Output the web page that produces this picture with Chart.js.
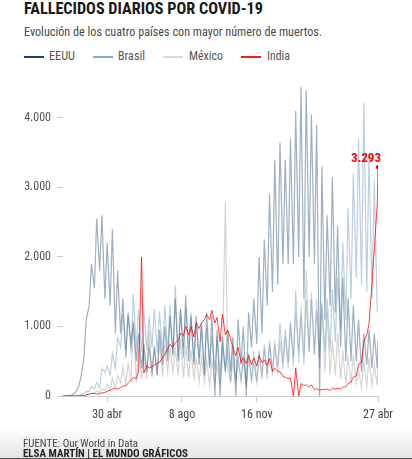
<!DOCTYPE html>
<html lang="es">
<head>
<meta charset="utf-8">
<title>Fallecidos diarios por COVID-19</title>
<script src="https://cdn.jsdelivr.net/npm/chart.js@4.4.1/dist/chart.umd.min.js"></script>
<style>
  body { margin: 0; background: #fff; font-family: 'Roboto Condensed', Roboto, sans-serif; }
  #pagina { position: relative; width: 412px; height: 459px; overflow: hidden; }
  .txt { position: absolute; white-space: nowrap; transform-origin: 0 0; }
  #titulo { left: 24px; top: 1px; font-size: 16px; font-weight: 700; line-height: 16px; color: #1a1a1a; }
  #subtitulo { left: 24px; top: 25px; font-size: 12.5px; line-height: 13px; color: #4a4a4a; }
  .linea { position: absolute; top: 56px; width: 20px; height: 2px; }
  .ley { top: 50px; font-size: 12px; line-height: 12px; color: #555; }
  #pie { position: absolute; left: 0; top: 428px; width: 412px; height: 30px; background: linear-gradient(#fff, #e4e4e4); }
  #borde { position: absolute; left: 0; top: 458px; width: 412px; height: 1px; background: #555; }
  #fuente { left: 23px; top: 438px; font-size: 10px; line-height: 11px; color: #444; }
  #firma { left: 23px; top: 448px; font-size: 10.5px; line-height: 11px; font-weight: 700; color: #222; }
  #grafico { position: absolute; left: 0; top: 70px; width: 412px; height: 370px; }
</style>
</head>
<body>
<div id="pagina">
  <div id="pie"></div>
  <div id="borde"></div>
  <div class="txt" id="titulo">FALLECIDOS DIARIOS POR COVID-19</div>
  <div class="txt" id="subtitulo">Evolución de los cuatro países con mayor número de muertos.</div>

  <div class="linea" style="left:24px;background:#1d3f6e"></div>
  <div class="txt ley" id="l1" style="left:49px">EEUU</div>
  <div class="linea" style="left:93px;background:#7aaad6"></div>
  <div class="txt ley" id="l2" style="left:118px">Brasil</div>
  <div class="linea" style="left:163px;background:#d8d8d8"></div>
  <div class="txt ley" id="l3" style="left:189px">México</div>
  <div class="linea" style="left:241px;background:#ff1a1a"></div>
  <div class="txt ley" id="l4" style="left:267px">India</div>

  <div id="grafico"><canvas id="lienzo"></canvas></div>

  <div class="txt" id="fuente">FUENTE: Our World in Data</div>
  <div class="txt" id="firma">ELSA MARTÍN | EL MUNDO GRÁFICOS</div>
</div>

<script>
// eje x: días desde el 23 feb 2020
const etiquetasX = ['30 abr', '8 ago', '16 nov', '27 abr'];
const diasEtiquetas = [67, 167, 267, 429];
const ticksY = [0, 1000, 2000, 3000, 4000];

// valores: lunes y jueves de cada semana (2 mar 2020 - 26 abr 2021) + 27 abr 2021
const eeuu = [
  1, 2, 4, 10, 25, 55, 140, 270, 560, 1100,
  1300, 1900, 1550, 2550, 1800, 2600, 1400, 2200,
  1300, 2400, 900, 1800, 900, 1400, 550, 1200,
  750, 1050, 500, 900, 400, 750, 350, 700, 350, 700,
  300, 950, 450, 1000, 500, 1150, 600, 1400,
  500, 1250, 550, 1450, 500, 1150, 450, 1150, 450, 1050,
  300, 1200, 400, 1150, 0, 950, 0, 850,
  350, 950, 350, 850, 0, 1100, 450, 1000,
  0, 1200, 700, 1400, 750, 2000, 900, 2250,
  1300, 2900, 1500, 3400, 1600, 3650, 1900, 3400, 1900, 3700,
  1900, 4100, 2000, 4450, 1400, 4400, 2000, 4050,
  1900, 3900, 0, 3300, 1100, 2600, 1300, 3150,
  1200, 2450, 700, 1700, 500, 1400, 500, 1300, 500, 1100,
  350, 900, 450, 950, 400, 900, 400, 800
];
const brasil = [
  0, 0, 0, 0, 0, 3, 9, 20, 30, 70,
  65, 140, 100, 190, 120, 400, 340, 430,
  300, 610, 400, 840, 700, 1190, 650, 1150,
  620, 1470, 680, 1250, 630, 1240, 650, 1140, 690, 1250,
  620, 1220, 630, 1300, 630, 1310, 560, 1590,
  560, 1240, 700, 1260, 680, 1200, 490, 1080, 550, 1000,
  310, 980, 420, 860, 380, 870, 320, 730,
  360, 640, 200, 710, 240, 550, 250, 510,
  180, 610, 230, 480, 200, 650, 300, 690,
  320, 750, 380, 770, 430, 1050, 470, 960, 480, 1070,
  430, 1520, 480, 1150, 450, 1380, 630, 1390,
  600, 1230, 560, 1350, 640, 1400, 640, 1540,
  780, 1700, 990, 2200, 1100, 2700, 1400, 3200, 1700, 3700,
  1600, 4220, 1500, 3500, 1400, 3100, 1200, null
];
const mexico = [
  0, 0, 0, 0, 0, 0, 0, 2, 5, 10,
  20, 35, 40, 70, 50, 100, 80, 170,
  100, 260, 110, 300, 190, 420, 170, 460,
  240, 1090, 190, 700, 250, 670, 250, 950, 270, 740,
  300, 780, 270, 730, 350, 700, 340, 690,
  300, 830, 260, 730, 260, 670, 250, 550, 200, 550,
  200, 530, 150, 500, 200, 450, 200, 500,
  2790, 430, 200, 480, 200, 500, 200, 600,
  150, 600, 200, 650, 200, 580, 250, 750,
  250, 800, 300, 680, 350, 800, 390, 850, 400, 1050,
  550, 1200, 650, 1300, 600, 1800, 650, 1500,
  600, 1400, 400, 1300, 350, 1200, 300, 800,
  300, 900, 250, 650, 180, 550, 200, 600, 180, 350,
  120, 500, 150, 550, 150, 450, 150, 450
];
const india = [
  0, 0, 0, 0, 0, 1, 2, 4, 5, 15,
  30, 40, 35, 30, 35, 45, 50, 70,
  80, 100, 110, 100, 120, 140, 150, 180,
  230, 270, 250, 360, 2000, 330, 440, 400, 420, 440,
  470, 480, 550, 600, 680, 740, 700, 770,
  800, 900, 870, 1000, 880, 1000, 850, 1050, 970, 1050,
  1100, 1170, 1100, 1230, 1050, 1130, 780, 1180,
  880, 950, 820, 700, 580, 700, 480, 550,
  470, 580, 450, 550, 430, 580, 480, 520,
  440, 540, 350, 400, 350, 350, 280, 270, 250, 260,
  0, 400, 0, 180, 150, 160, 130, 160,
  90, 110, 80, 95, 90, 100, 80, 110,
  100, 110, 100, 130, 130, 180, 200, 270, 290, 460,
  480, 780, 880, 1040, 1620, 2100, 2770, 3293
];

// calendario de muestreo: lunes (día 8 + 7k) y jueves (día 11 + 7k)
const dias = [];
for (let k = 0; k <= 60; k++) {
  dias.push(8 + 7 * k);
  if (k < 60) dias.push(11 + 7 * k);
}
dias.push(429);

function miles(v) {
  return String(v).replace(/\B(?=(\d{3})+(?!\d))/g, '.');
}

function serie(valores) {
  return dias.map((d, i) => ({ x: d, y: valores[i] }));
}

// ajusta el ancho de los textos al del original
function ajustar(id, ancho) {
  const el = document.getElementById(id);
  const w = el.getBoundingClientRect().width;
  el.style.transform = 'scaleX(' + (ancho / w) + ')';
}
ajustar('titulo', 239);
ajustar('subtitulo', 298);
ajustar('l1', 26);
ajustar('l2', 27);
ajustar('l3', 34);
ajustar('l4', 23);
ajustar('fuente', 115);
ajustar('firma', 165);

const etiquetaFinal = {
  id: 'etiquetaFinal',
  afterDatasetsDraw(chart) {
    const meta = chart.getDatasetMeta(0);
    const p = meta.data[meta.data.length - 1];
    const c = chart.ctx;
    c.save();
    c.font = "700 13px 'Roboto Condensed', Roboto, sans-serif";
    c.fillStyle = '#ff0000';
    c.textAlign = 'right';
    c.textBaseline = 'alphabetic';
    c.fillText(miles(india[india.length - 1]), p.x + 3, p.y - 5);
    c.restore();
  }
};

Chart.defaults.font.family = "'Roboto Condensed', Roboto, sans-serif";
Chart.defaults.font.size = 12;

new Chart(document.getElementById('lienzo'), {
  type: 'line',
  data: {
    datasets: [
      {
        label: 'India',
        data: serie(india),
        borderColor: 'rgba(255,0,0,0.75)',
        borderWidth: 1,
        order: 0,
        pointRadius: c => c.dataIndex === india.length - 1 ? 2.2 : 0,
        pointBackgroundColor: '#ff0000',
        pointBorderWidth: 0
      },
      {
        label: 'EEUU',
        data: serie(eeuu),
        borderColor: 'rgba(40,80,120,0.45)',
        borderWidth: 1.2,
        order: 1
      },
      {
        label: 'Brasil',
        data: serie(brasil),
        borderColor: 'rgba(95,140,180,0.42)',
        borderWidth: 1.2,
        order: 2
      },
      {
        label: 'México',
        data: serie(mexico),
        borderColor: 'rgba(195,195,195,0.7)',
        borderWidth: 1.2,
        order: 3
      }
    ]
  },
  options: {
    responsive: true,
    maintainAspectRatio: false,
    animation: false,
    events: [],
    layout: { padding: { top: 11, right: 34, bottom: 10, left: 0 } },
    plugins: { legend: { display: false }, tooltip: { enabled: false } },
    elements: { line: { tension: 0 }, point: { radius: 0 } },
    scales: {
      x: {
        type: 'linear',
        min: 8,
        max: 429,
        afterBuildTicks: s => { s.ticks = diasEtiquetas.map(v => ({ value: v })); },
        afterFit: s => { s.height = 34; },
        ticks: {
          callback: v => etiquetasX[diasEtiquetas.indexOf(v)],
          color: '#444',
          padding: 6,
          maxRotation: 0,
          autoSkip: false
        },
        grid: { drawOnChartArea: false, drawTicks: true, tickLength: 6, color: '#cccccc' },
        border: { display: true, color: '#cccccc' }
      },
      y: {
        min: 0,
        max: 4500,
        afterBuildTicks: s => { s.ticks = ticksY.map(v => ({ value: v })); },
        afterFit: s => { s.width = 63; },
        ticks: { callback: v => miles(v), color: '#555', padding: 6 },
        grid: { drawOnChartArea: false, drawTicks: true, tickLength: 6, color: '#cccccc' },
        border: { display: false }
      }
    }
  },
  plugins: [etiquetaFinal]
});
</script>
</body>
</html>
